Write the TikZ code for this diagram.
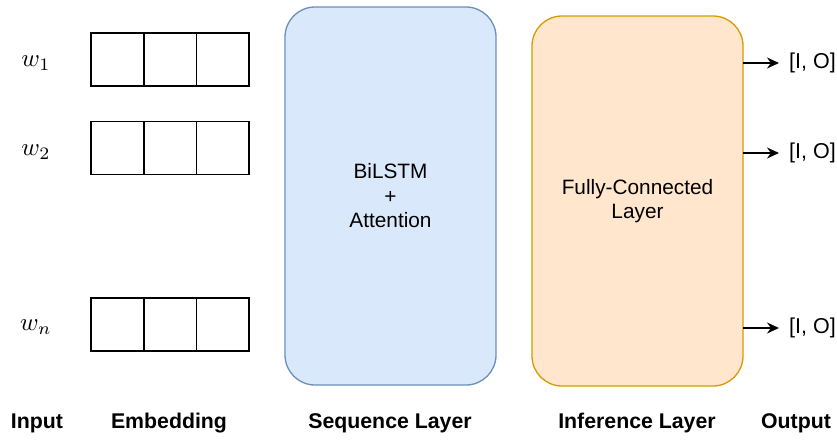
\documentclass[tikz,border=0pt]{standalone}
\usepackage{fontspec}
\setmainfont{Liberation Sans}
\usetikzlibrary{arrows.meta}
\definecolor{seqfill}{HTML}{DAE8FC}
\definecolor{seqdraw}{HTML}{6C8EBF}
\definecolor{inffill}{HTML}{FFE6CC}
\definecolor{infdraw}{HTML}{D79B00}
\newcommand{\wlab}[1]{\scalebox{2.5}{$#1$}}
\tikzset{
  cell/.style={draw=black, line width=1.6pt, minimum width=52.7pt, minimum height=53pt, inner sep=0pt, outer sep=0pt},
  layerbox/.style={rounded corners=30pt, line width=1.3pt, minimum width=211pt, inner sep=0pt, align=center, font=\fontsize{20.8}{24.5}\selectfont},
  caption/.style={font=\fontsize{21.3}{24}\selectfont\bfseries, anchor=base},
  wlabel/.style={font=\normalsize},
  outlabel/.style={font=\fontsize{21.5}{24}\selectfont, anchor=west, inner sep=0pt},
  outarrow/.style={-{Stealth[length=12pt,width=11pt]}, line width=1.5pt},
}
\begin{document}
\begin{tikzpicture}[x=1pt,y=-1pt]
\useasboundingbox (0,0) rectangle (837,439);
\fill[white] (0,0) rectangle (837,439);

% inputs
\node[wlabel] (w1) at (36,63) {\wlab{w_1}};
\node[wlabel] (w2) at (36,152) {\wlab{w_2}};
\node[wlabel] (wn) at (36,327) {\wlab{w_n}};

% embedding rows
\foreach \r/\y in {1/59.5, 2/148, n/324.5}{
  \node[cell] (e\r a) at (117.35,\y) {};
  \node[cell] (e\r b) at (170.05,\y) {};
  \node[cell] (e\r c) at (222.75,\y) {};
}

% sequence layer
\node[layerbox, fill=seqfill, draw=seqdraw, minimum height=378pt] (seq) at (390.5,196) {BiLSTM\\+\\Attention};

% inference layer
\node[layerbox, fill=inffill, draw=infdraw, minimum height=370pt] (inf) at (637.5,201) {Fully-Connected\\Layer};

% outputs
\coordinate (s1) at (743,63);
\coordinate (s2) at (743,153);
\coordinate (sn) at (743,328);
\node[outlabel] (o1) at (789,63) {[I, O]};
\node[outlabel] (o2) at (789,153) {[I, O]};
\node[outlabel] (on) at (789,328) {[I, O]};
\draw[outarrow] (s1) -- ++(36,0) coordinate (t1);
\draw[outarrow] (s2) -- ++(36,0) coordinate (t2);
\draw[outarrow] (sn) -- ++(36,0) coordinate (tn);

% captions
\node[caption] (c1) at (37,428) {Input};
\node[caption] (c2) at (169,428) {Embedding};
\node[caption] (c3) at (390,428) {Sequence Layer};
\node[caption] (c4) at (637,428) {Inference Layer};
\node[caption] (c5) at (796,428) {Output};
\end{tikzpicture}
\end{document}
